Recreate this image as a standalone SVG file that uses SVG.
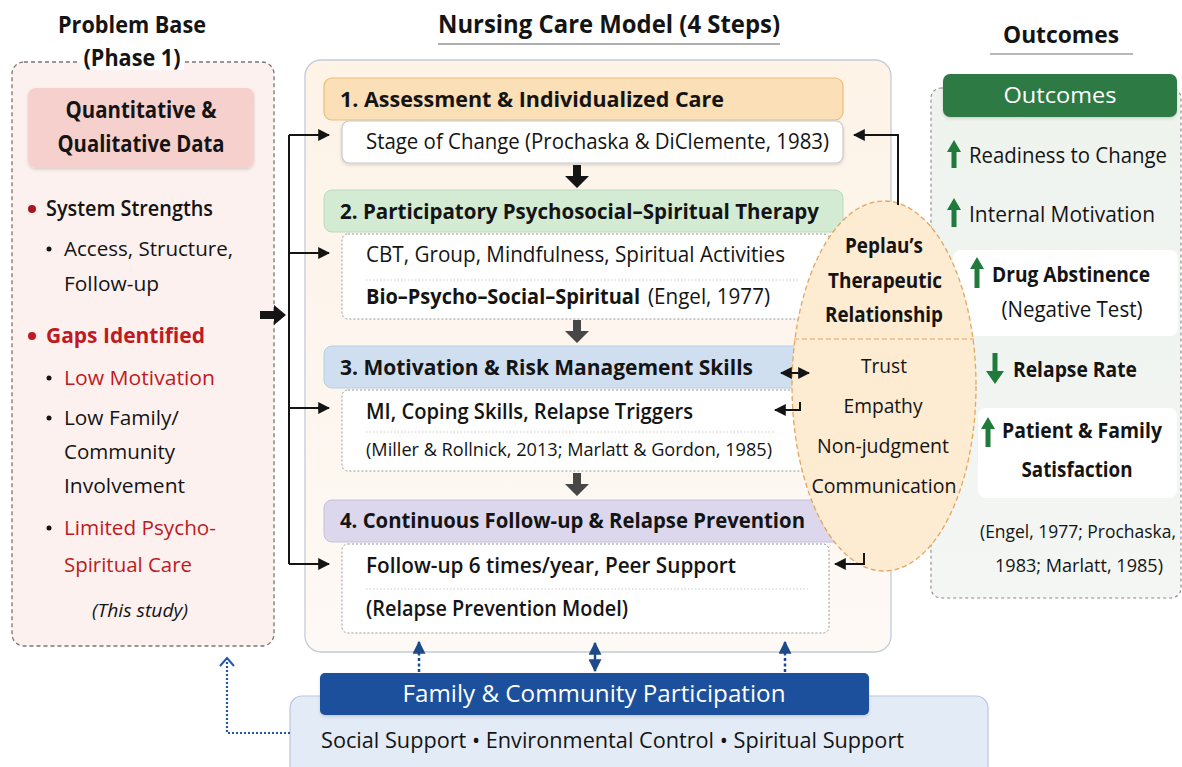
<svg xmlns="http://www.w3.org/2000/svg" width="1182" height="767" viewBox="0 0 1182 767">
<defs>
<style>
text{font-family:"Open Sans","Noto Sans","Liberation Sans",sans-serif;fill:#141414;}
.b{font-weight:700}
.sb{font-weight:600}
.h{font-size:22px;font-weight:700}
.red{fill:#bf1a22}
.w{fill:#ffffff}
.conn{stroke:#141414;stroke-width:2;fill:none}
.blue{stroke:#1f4a8a;stroke-width:2.5;fill:none}
.sep{stroke:#c9c9c9;stroke-width:1;stroke-dasharray:1.5 2}
.sub{fill:#ffffff;stroke:#9a9a9a;stroke-width:1;stroke-dasharray:2 2}
.gar{fill:#1f7a3c}
</style>
<marker id="ah" viewBox="0 0 10 10" refX="9" refY="5" markerUnits="userSpaceOnUse" markerWidth="12" markerHeight="12" orient="auto-start-reverse"><path d="M0,0 L10,5 L0,10 z" fill="#141414"/></marker>
<marker id="bh" viewBox="0 0 10 10" refX="9" refY="5" markerUnits="userSpaceOnUse" markerWidth="13" markerHeight="13" orient="auto-start-reverse"><path d="M0,0 L10,5 L0,10 z" fill="#1f4a8a"/></marker>
<filter id="sh" x="-5%" y="-10%" width="110%" height="130%"><feDropShadow dx="0" dy="1.5" stdDeviation="1.5" flood-color="#000" flood-opacity="0.15"/></filter>
<linearGradient id="cg" x1="0" y1="0" x2="0" y2="1"><stop offset="0" stop-color="#fdf3e7"/><stop offset="1" stop-color="#fdf9f5"/></linearGradient>
<linearGradient id="og" x1="0" y1="0" x2="0" y2="1"><stop offset="0" stop-color="#eef3ee"/><stop offset="1" stop-color="#f3f6f3"/></linearGradient>
</defs>
<rect width="1182" height="767" fill="#ffffff"/>

<!-- Problem base -->
<g id="problem-base">
<rect x="12" y="62" width="262" height="584" rx="12" fill="#fdf1ef" stroke="#777" stroke-width="1.3" stroke-dasharray="4 3"/>
<rect x="80" y="54" width="104" height="16" fill="#ffffff"/>
<text x="132" y="33" text-anchor="middle" class="b" font-size="23" textLength="148" lengthAdjust="spacingAndGlyphs">Problem Base</text>
<text x="132" y="66" text-anchor="middle" class="b" font-size="23" textLength="97" lengthAdjust="spacingAndGlyphs">(Phase 1)</text>
<rect x="28" y="88" width="226" height="80" rx="8" fill="#f6d0cc" filter="url(#sh)"/>
<text x="141" y="118" text-anchor="middle" class="b" font-size="23" textLength="151" lengthAdjust="spacingAndGlyphs">Quantitative &amp;</text>
<text x="141" y="152" text-anchor="middle" class="b" font-size="23" textLength="167" lengthAdjust="spacingAndGlyphs">Qualitative Data</text>
<circle cx="32" cy="209" r="4" fill="#a8161e"/>
<text x="46" y="216" class="sb" font-size="21" textLength="167" lengthAdjust="spacingAndGlyphs">System Strengths</text>
<circle cx="49" cy="249" r="2.5" fill="#141414"/>
<text x="64" y="256" font-size="20" textLength="169" lengthAdjust="spacingAndGlyphs">Access, Structure,</text>
<text x="64" y="291" font-size="20" textLength="95" lengthAdjust="spacingAndGlyphs">Follow-up</text>
<circle cx="32" cy="336" r="4" fill="#bf1a22"/>
<text x="46" y="343" class="b red" font-size="22" textLength="159" lengthAdjust="spacingAndGlyphs">Gaps Identified</text>
<circle cx="49" cy="378" r="2.5" fill="#141414"/>
<text x="64" y="385" class="red" font-size="20" textLength="151" lengthAdjust="spacingAndGlyphs">Low Motivation</text>
<circle cx="49" cy="418" r="2.5" fill="#141414"/>
<text x="64" y="425" font-size="20" textLength="115" lengthAdjust="spacingAndGlyphs">Low Family/</text>
<text x="64" y="459" font-size="20" textLength="111" lengthAdjust="spacingAndGlyphs">Community</text>
<text x="64" y="493" font-size="20" textLength="121" lengthAdjust="spacingAndGlyphs">Involvement</text>
<circle cx="49" cy="528" r="2.5" fill="#141414"/>
<text x="64" y="535" class="red" font-size="20" textLength="152" lengthAdjust="spacingAndGlyphs">Limited Psycho-</text>
<text x="64" y="572" class="red" font-size="20" textLength="128" lengthAdjust="spacingAndGlyphs">Spiritual Care</text>
<text x="140" y="617" text-anchor="middle" font-style="italic" font-size="18" textLength="96" lengthAdjust="spacingAndGlyphs">(This study)</text>
</g>

<!-- Central panel -->
<g id="care-model">
<text x="609" y="33" text-anchor="middle" class="b" font-size="25" textLength="342" lengthAdjust="spacingAndGlyphs">Nursing Care Model (4 Steps)</text>
<line x1="438" y1="44" x2="780" y2="44" stroke="#666" stroke-width="1.6" opacity="0.7"/>
<rect x="305" y="60" width="586" height="592" rx="16" fill="url(#cg)" stroke="#c4ccd8" stroke-width="1.3"/>
</g>

<g id="step1">
<rect x="324" y="78" width="519" height="42" rx="8" fill="#fbdfb6" stroke="#eebc78" stroke-width="1.2"/>
<text x="340" y="107" class="h" textLength="384" lengthAdjust="spacingAndGlyphs">1. Assessment &amp; Individualized Care</text>
<rect x="342" y="121" width="501" height="42" rx="7" fill="#ffffff" stroke="#c9c9c9" stroke-width="1.2" filter="url(#sh)"/>
<text x="366" y="149" font-size="21" textLength="463" lengthAdjust="spacingAndGlyphs">Stage of Change (Prochaska &amp; DiClemente, 1983)</text>
</g>

<g id="step2">
<rect x="324" y="190" width="519" height="42" rx="8" fill="#d3ead3" stroke="#bcdcbc" stroke-width="1"/>
<text x="340" y="219" class="h" textLength="479" lengthAdjust="spacingAndGlyphs">2. Participatory Psychosocial–Spiritual Therapy</text>
<rect x="342" y="234" width="488" height="85" rx="6" class="sub"/>
<text x="366" y="262" font-size="21" textLength="419" lengthAdjust="spacingAndGlyphs">CBT, Group, Mindfulness, Spiritual Activities</text>
<line x1="366" y1="280" x2="800" y2="280" class="sep"/>
<text x="366" y="304" class="b" font-size="21" textLength="274" lengthAdjust="spacingAndGlyphs">Bio–Psycho–Social–Spiritual</text>
<text x="648" y="304" font-size="21" textLength="122" lengthAdjust="spacingAndGlyphs">(Engel, 1977)</text>
</g>

<g id="step3">
<rect x="324" y="346" width="519" height="42" rx="8" fill="#cfdff0" stroke="#b9cde4" stroke-width="1"/>
<text x="340" y="375" class="h" textLength="413" lengthAdjust="spacingAndGlyphs">3. Motivation &amp; Risk Management Skills</text>
<rect x="342" y="390" width="488" height="81" rx="6" class="sub"/>
<text x="366" y="419" class="sb" font-size="21" textLength="327" lengthAdjust="spacingAndGlyphs">MI, Coping Skills, Relapse Triggers</text>
<line x1="366" y1="432" x2="775" y2="432" class="sep"/>
<text x="366" y="456" font-size="18" textLength="406" lengthAdjust="spacingAndGlyphs">(Miller &amp; Rollnick, 2013; Marlatt &amp; Gordon, 1985)</text>
</g>

<g id="step4">
<rect x="324" y="500" width="519" height="42" rx="8" fill="#dcd7ed" stroke="#c6c0e0" stroke-width="1"/>
<text x="340" y="528" class="h" textLength="465" lengthAdjust="spacingAndGlyphs">4. Continuous Follow-up &amp; Relapse Prevention</text>
<rect x="342" y="544" width="487" height="89" rx="6" class="sub"/>
<text x="366" y="573" class="sb" font-size="21" textLength="370" lengthAdjust="spacingAndGlyphs">Follow-up 6 times/year, Peer Support</text>
<line x1="366" y1="589" x2="808" y2="589" class="sep"/>
<text x="366" y="616" class="sb" font-size="21" textLength="262" lengthAdjust="spacingAndGlyphs">(Relapse Prevention Model)</text>
</g>

<!-- Outcomes -->
<g id="outcomes">
<text x="1061" y="43" text-anchor="middle" class="b" font-size="23" textLength="116" lengthAdjust="spacingAndGlyphs">Outcomes</text>
<line x1="990" y1="54" x2="1133" y2="54" stroke="#777" stroke-width="1.4" opacity="0.7"/>
<rect x="931" y="88" width="250" height="510" rx="10" fill="url(#og)" stroke="#8a8a8a" stroke-width="1.1" stroke-dasharray="3 3"/>
<rect x="943" y="74" width="234" height="43" rx="7" fill="#2d7a45" filter="url(#sh)"/>
<text x="1060" y="103" text-anchor="middle" class="w" font-size="22" textLength="113" lengthAdjust="spacingAndGlyphs">Outcomes</text>
<path class="gar" d="M954,140 L961,152 L956.5,152 L956.5,168 L951.5,168 L951.5,152 L947,152 Z"/>
<text x="969" y="163" font-size="21" textLength="198" lengthAdjust="spacingAndGlyphs">Readiness to Change</text>
<path class="gar" d="M954,198 L961,210 L956.5,210 L956.5,227 L951.5,227 L951.5,210 L947,210 Z"/>
<text x="969" y="222" font-size="21" textLength="186" lengthAdjust="spacingAndGlyphs">Internal Motivation</text>
<rect x="953" y="250" width="225" height="86" rx="8" fill="#ffffff"/>
<path class="gar" d="M977,257 L984,269 L979.5,269 L979.5,288 L974.5,288 L974.5,269 L970,269 Z"/>
<text x="992" y="282" class="b" font-size="21" textLength="158" lengthAdjust="spacingAndGlyphs">Drug Abstinence</text>
<text x="1072" y="317" text-anchor="middle" font-size="21" textLength="141" lengthAdjust="spacingAndGlyphs">(Negative Test)</text>
<path class="gar" d="M995,384 L1004,371 L997.5,371 L997.5,353 L992.5,353 L992.5,371 L986,371 Z"/>
<text x="1013" y="377" class="b" font-size="21" textLength="124" lengthAdjust="spacingAndGlyphs">Relapse Rate</text>
<rect x="978" y="408" width="199" height="90" rx="8" fill="#ffffff"/>
<path class="gar" d="M988,417 L995,429 L990.5,429 L990.5,447 L985.5,447 L985.5,429 L981,429 Z"/>
<text x="1002" y="438" class="b" font-size="21" textLength="160" lengthAdjust="spacingAndGlyphs">Patient &amp; Family</text>
<text x="1077" y="477" text-anchor="middle" class="b" font-size="21" textLength="111" lengthAdjust="spacingAndGlyphs">Satisfaction</text>
<text x="1078" y="538" text-anchor="middle" font-size="18" textLength="196" lengthAdjust="spacingAndGlyphs">(Engel, 1977; Prochaska,</text>
<text x="1079" y="572" text-anchor="middle" font-size="18" textLength="168" lengthAdjust="spacingAndGlyphs">1983; Marlatt, 1985)</text>
</g>

<!-- Peplau ellipse -->
<g id="peplau">
<ellipse cx="884" cy="386" rx="92" ry="185" fill="#fdebd2" stroke="#e4a55c" stroke-width="1.3" stroke-dasharray="5 3"/>
<line x1="794" y1="339" x2="974" y2="339" stroke="#e4a55c" stroke-width="1" stroke-dasharray="5 3"/>
<text x="884" y="253" text-anchor="middle" class="b" font-size="21" textLength="78" lengthAdjust="spacingAndGlyphs">Peplau’s</text>
<text x="885" y="288" text-anchor="middle" class="b" font-size="21" textLength="114" lengthAdjust="spacingAndGlyphs">Therapeutic</text>
<text x="884" y="322" text-anchor="middle" class="b" font-size="21" textLength="118" lengthAdjust="spacingAndGlyphs">Relationship</text>
<text x="884" y="373" text-anchor="middle" font-size="20" textLength="46" lengthAdjust="spacingAndGlyphs">Trust</text>
<text x="883" y="413" text-anchor="middle" font-size="20" textLength="79" lengthAdjust="spacingAndGlyphs">Empathy</text>
<text x="883" y="453" text-anchor="middle" font-size="20" textLength="132" lengthAdjust="spacingAndGlyphs">Non-judgment</text>
<text x="884" y="493" text-anchor="middle" font-size="20" textLength="145" lengthAdjust="spacingAndGlyphs">Communication</text>
</g>

<!-- Family & community -->
<g id="family-community">
<rect x="290" y="696" width="698" height="90" rx="12" fill="#e3ebf6" stroke="#b9c8df" stroke-width="1.2"/>
<rect x="320" y="673" width="549" height="42" rx="5" fill="#1b4f9c" filter="url(#sh)"/>
<text x="594" y="702" text-anchor="middle" class="w" font-size="23" textLength="383" lengthAdjust="spacingAndGlyphs">Family &amp; Community Participation</text>
<text x="321" y="748" font-size="21" textLength="583" lengthAdjust="spacingAndGlyphs">Social Support • Environmental Control • Spiritual Support</text>
</g>

<!-- Connectors -->
<g id="connectors">
<path d="M260,311 h14 v-6 l12,10 l-12,10 v-6 h-14 z" fill="#141414"/>
<path class="conn" d="M289,135 V564"/>
<path class="conn" d="M289,135 H329" marker-end="url(#ah)"/>
<path class="conn" d="M289,253 H329" marker-end="url(#ah)"/>
<path class="conn" d="M289,408 H329" marker-end="url(#ah)"/>
<path class="conn" d="M289,564 H329" marker-end="url(#ah)"/>
<path d="M573,165 h8 v11 h8 l-12,12 l-12,-12 h8 z" fill="#141414"/>
<path d="M573,320 h8 v11 h8 l-12,12 l-12,-12 h8 z" fill="#474747"/>
<path d="M573,473 h8 v11 h8 l-12,12 l-12,-12 h8 z" fill="#474747"/>
<path class="conn" d="M898,205 V135 H854" marker-end="url(#ah)"/>
<path class="conn" d="M781,373 H809" marker-start="url(#ah)" marker-end="url(#ah)"/>
<path class="conn" d="M800,402 V410 H775" marker-end="url(#ah)"/>
<path class="conn" d="M864,553 V564 H835" marker-end="url(#ah)"/>
<path class="blue" d="M419,672 V642" stroke-dasharray="3 2.5" marker-end="url(#bh)"/>
<path class="blue" d="M595,671 V643" marker-start="url(#bh)" marker-end="url(#bh)"/>
<path class="blue" d="M785,672 V642" stroke-dasharray="3 2.5" marker-end="url(#bh)"/>
<path d="M290,733 H227 V659" fill="none" stroke="#2456a8" stroke-width="2.2" stroke-dasharray="2 2"/>
<polyline points="220,666 227,658 234,666" fill="none" stroke="#2456a8" stroke-width="2"/>
</g>
</svg>
